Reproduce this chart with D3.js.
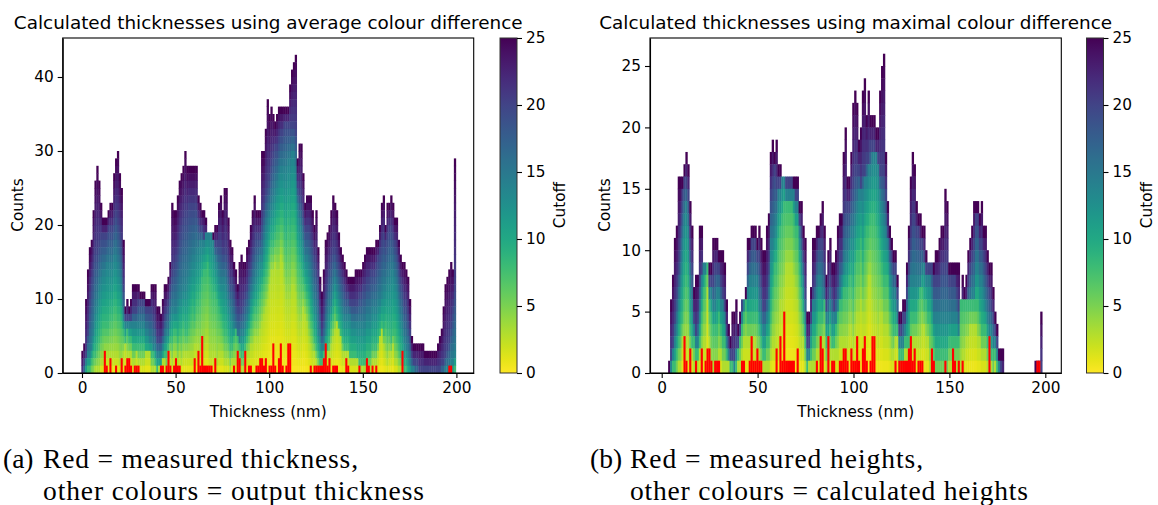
<!DOCTYPE html>
<html>
<head>
<meta charset="utf-8">
<script src="https://cdn.jsdelivr.net/npm/d3@7"></script>
<style>
body { margin: 0; background: #fff; }
svg { display: block; }
text { font-family: "DejaVu Sans", sans-serif; fill: #000; }
.caption { font-family: "Liberation Serif", serif; font-size: 27.5px; }
.axis text { font-size: 15.3px; }
.axis path, .axis line { stroke: #000; stroke-width: 1.1px; }
</style>
</head>
<body>
<script>
// count reached in each 1 nm bin, for a given cutoff. a = average difference
var a25 = [3,4,10,14,17,18,22,26,28,26, 23,21,21,21,22,23,23,27,29,30, 27,25,18,9,10,9,10,12,12,12,
  12,11,11,11,10,10,10,12,12,12, 9,9,8,10,12,12,13,15,23,22, 22,24,26,27,28,30,28,28,28,28,
  28,28,24,23,22,22,21,19,19,19, 19,20,20,23,24,22,25,25,21,18, 17,15,14,12,15,16,15,15,17,18,
  20,22,24,22,22,22,30,30,33,37, 35,36,35,34,35,36,36,36,36,36, 36,39,41,42,43,29,31,31,27,23,
  24,24,24,22,20,22,17,13,11,14, 18,19,20,22,24,23,22,19,17,16, 15,14,13,13,13,13,14,14,14,14,
  15,16,17,17,17,17,17,18,18,20, 23,24,20,23,23,24,23,21,21,18, 16,15,15,14,13,10,5,4,4,4,
  4,4,4,3,3,3,3,3,3,3, 4,5,6,9,12,13,14,15,14,29];
var a20 = [0,2,3,6,10,13,15,17,17,18, 19,19,19,19,20,20,20,21,22,21, 20,18,12,8,8,8,8,9,9,9,
  10,10,10,10,9,9,9,9,8,7, 5,5,5,6,8,9,10,12,14,15, 16,17,19,20,21,22,22,23,23,23,
  23,23,21,20,20,19,19,19,18,18, 18,18,18,18,18,17,17,17,15,13, 13,12,10,9,9,9,10,11,12,14,
  15,17,18,19,19,19,21,23,25,26, 27,29,30,31,31,32,33,33,34,34, 34,34,34,34,33,26,25,24,22,20,
  20,20,19,18,16,15,13,9,6,8, 11,13,15,16,17,17,16,15,14,13, 12,11,11,10,10,10,10,10,11,11,
  12,12,13,13,14,14,14,15,16,17, 18,19,18,19,20,20,19,18,17,15, 13,12,10,10,8,6,3,2,2,2,
  1,1,1,1,1,1,1,1,1,1, 1,1,2,2,3,4,5,7,9,12];
var a14 = [0,0,2,3,3,4,6,9,10,12, 13,14,14,15,15,15,15,16,16,15, 14,12,8,7,7,7,7,7,7,7,
  7,7,7,7,6,6,5,5,4,4, 3,3,3,4,5,6,6,8,9,9, 9,10,11,11,12,12,13,14,15,16,
  16,17,17,18,18,18,19,19,19,19, 18,16,15,14,13,13,13,12,10,9, 8,7,6,5,5,6,6,7,8,9,
  11,12,13,14,15,16,16,18,20,21, 22,23,24,25,26,27,28,28,28,28, 29,29,30,30,28,23,21,20,18,16,
  16,15,14,12,10,9,6,5,4,4, 6,8,9,10,12,13,12,11,10,9, 8,8,8,8,7,7,7,7,7,7,
  7,7,8,8,8,9,9,9,10,10, 11,12,12,13,13,14,14,13,12,10, 8,7,5,4,3,2,1,1,0,0,
  0,0,0,0,0,0,0,0,0,0, 0,0,0,0,1,1,1,2,2,3];
var a8 = [0,0,0,1,1,2,3,3,4,5, 6,7,7,7,7,8,8,9,9,8, 8,7,6,5,6,5,5,4,4,4,
  4,4,4,4,3,3,3,3,3,2, 1,1,1,2,3,3,4,5,5,6, 6,5,6,6,7,6,6,7,8,9,
  8,10,10,11,13,14,14,15,13,12, 11,11,10,9,8,7,6,6,5,4, 4,5,6,5,4,3,3,4,5,6,
  7,8,9,9,10,11,12,13,14,15, 17,18,18,19,20,20,21,21,19,18, 20,19,20,20,19,16,15,14,13,12,
  11,10,8,7,5,4,3,2,2,3, 4,4,5,7,8,9,8,7,6,5, 4,4,4,3,3,3,3,2,2,2,
  2,2,3,3,3,4,4,4,5,6, 7,6,7,6,6,5,6,6,5,4, 3,2,1,1,0,0,0,0,0,0,
  0,0,0,0,0,0,0,0,0,0, 0,0,0,0,0,0,0,0,0,1];
var a3 = [0,0,0,0,0,0,0,1,1,1, 2,2,3,3,3,3,3,3,3,3, 2,2,3,4,3,3,3,2,2,3,
  2,2,2,2,3,3,3,1,1,1, 0,1,1,2,2,1,2,3,2,3, 3,2,3,2,3,3,3,3,3,3,
  4,4,4,3,4,4,5,5,3,3, 3,3,2,3,3,3,2,2,2,1, 2,2,2,2,2,1,1,2,3,3,
  4,4,5,5,5,6,7,8,9,10, 12,14,14,15,14,14,16,15,12,10, 10,10,12,12,11,8,7,7,9,8,
  7,5,4,3,3,2,1,1,1,1, 2,3,3,4,5,6,7,6,5,3, 3,3,3,2,2,2,2,2,1,1,
  1,1,1,1,1,2,2,2,3,5, 6,4,3,2,3,3,4,2,2,1, 1,1,0,0,0,0,0,0,0,0,
  0,0,0,0,0,0,0,0,0,0, 0,0,0,0,0,0,0,0,0,0];
var redA = [[12,3],[13,1],[15,2],[18,1],[21,2],[23,1],[24,2],[25,2],[26,1],[28,1],[29,1],[30,1],
  [42,1],[43,1],[45,1],[46,3],[47,1],[49,1],[50,2],[51,1],[52,1],[60,2],[62,3],[63,1],[64,5],
  [65,1],[66,1],[67,1],[68,1],[69,1],[71,2],[81,1],[83,3],[84,2],[87,3],[89,1],[90,1],[93,1],[94,1],
  [95,2],[96,2],[97,1],[98,2],[100,1],[101,1],[102,4],[103,1],[105,2],[106,4],[107,1],[109,1],[110,4],[111,4],
  [122,1],[124,1],[125,1],[126,1],[127,1],[128,1],[129,2],[130,4],[131,1],[132,2],[134,1],[135,1],[136,1],
  [141,2],[142,1],[148,1],[152,2],[153,1],[155,1],[157,1],[171,3],[196,1],[197,1]];

// b = maximal difference
var b25 = [1,6,8,11,12,16,16,16,17,18, 17,14,12,7,8,8,12,12,9,9, 9,9,9,11,11,11,10,10,10,9,
  6,4,3,5,5,6,4,5,6,6, 7,11,11,12,12,12,11,12,11,10, 10,12,13,18,19,18,19,17,17,16,
  16,16,16,16,16,16,16,16,14,14, 12,11,5,5,7,11,11,12,12,13, 14,12,8,10,11,9,9,10,12,13,
  13,18,20,16,16,18,22,23,22,19, 20,23,24,21,23,21,21,21,20,20, 23,25,26,18,14,12,11,10,10,8,
  5,5,6,6,9,12,16,18,17,14, 13,13,12,12,10,9,9,9,9,10, 10,11,12,12,15,14,9,9,9,9,
  9,9,6,8,7,8,10,11,12,14, 14,14,13,14,12,12,10,9,9,7, 5,4,2,2,2,0,0,0,0,0,
  0,0,0,0,0,0,0,0,0,0, 0,1,1,1,5];
var b20 = [0,2,3,5,7,9,12,15,16,16, 15,11,9,5,4,5,8,9,9,9, 9,8,8,8,9,9,9,8,7,6,
  4,3,2,2,2,3,3,4,6,6, 6,9,10,11,11,11,10,10,8,6, 6,7,9,15,16,17,16,16,16,16,
  16,16,16,16,16,15,15,15,13,12, 10,7,3,3,5,7,8,10,11,11, 11,9,6,7,8,7,6,7,8,10,
  10,13,14,14,14,15,16,17,17,17, 16,17,17,18,18,19,19,19,18,18, 17,17,17,15,12,11,10,9,9,7,
  4,4,5,5,7,9,11,13,13,12, 12,11,11,10,9,9,9,9,8,8, 8,8,9,9,9,9,8,8,8,8,
  7,6,4,5,6,6,8,9,10,11, 13,13,11,11,10,9,8,7,6,5, 4,3,1,1,0,0,0,0,0,0,
  0,0,0,0,0,0,0,0,0,0, 0,0,0,0,1];
var b14 = [0,1,2,3,4,6,8,11,13,14, 12,8,6,4,3,3,5,8,9,9, 8,7,7,6,6,7,7,6,6,5,
  3,2,1,1,1,2,2,3,5,6, 6,7,8,8,8,8,8,6,5,4, 4,5,6,11,11,12,13,15,15,16,
  16,15,15,15,15,15,14,14,12,10, 8,5,2,2,4,6,6,7,8,8, 7,6,5,5,6,5,5,5,6,7,
  8,9,10,10,11,12,12,13,14,15, 15,15,16,16,17,17,18,18,18,17, 15,14,13,12,11,9,8,7,7,5,
  3,3,3,4,5,7,8,8,8,8, 8,8,9,9,8,8,8,7,5,5, 5,5,5,5,5,5,5,5,5,5,
  5,4,6,6,6,6,6,6,7,7, 9,9,8,8,7,6,5,4,4,3, 3,2,1,0,0,0,0,0,0,0,
  0,0,0,0,0,0,0,0,0,0, 0,0,0,0,0];
var b8 = [0,0,1,1,2,3,4,5,7,8, 7,4,3,3,2,2,3,5,7,8, 9,6,5,4,4,4,5,4,3,3,
  2,1,1,1,0,1,2,3,4,5, 6,5,5,5,5,5,5,4,3,2, 2,3,3,5,7,9,9,11,12,13,
  14,14,14,14,14,13,12,12,9,7, 5,3,1,1,2,3,3,4,5,5, 5,6,3,3,4,3,3,4,5,6,
  6,7,7,7,8,8,7,9,10,10, 11,9,11,12,12,13,13,13,12,11, 10,9,8,8,8,6,5,4,4,4,
  2,2,2,3,3,3,5,5,5,5, 6,7,7,6,6,5,5,4,3,2, 2,2,2,2,2,2,3,3,3,3,
  3,3,6,6,6,6,6,6,6,6, 6,6,5,4,4,4,3,3,2,2, 2,1,0,0,0,0,0,0,0,0,
  0,0,0,0,0,0,0,0,0,0, 0,0,0,0,0];
var b3 = [0,0,0,0,0,1,1,3,3,3, 3,2,2,1,1,1,2,2,3,3, 7,3,1,1,1,1,2,2,1,1,
  1,1,0,0,0,0,1,1,2,3, 3,3,3,3,3,3,2,2,1,1, 1,1,1,2,3,3,4,4,6,6,
  7,9,9,9,9,8,7,6,4,3, 3,1,0,1,1,1,1,2,2,2, 3,3,1,1,2,2,2,2,2,3,
  3,3,3,3,4,4,3,4,5,5, 6,5,5,6,8,8,6,5,5,4, 5,5,4,4,4,3,2,2,3,3,
  1,1,1,2,2,2,2,3,3,3, 3,3,4,4,3,3,1,1,0,0, 0,0,0,0,0,0,1,1,1,1,
  1,1,1,2,2,3,3,4,4,4, 4,3,3,2,2,2,1,1,1,0, 1,0,0,0,0,0,0,0,0,0,
  0,0,0,0,0,0,0,0,0,0, 0,0,0,0,0];
var redB = [[8,3],[9,1],[11,2],[14,1],[17,2],[19,1],[20,2],[21,2],[22,1],[24,1],[25,1],[26,1],
  [38,1],[39,1],[42,1],[43,3],[44,1],[45,1],[46,2],[47,1],[48,1],[56,2],[58,3],[59,1],[60,5],
  [61,1],[62,1],[63,1],[64,1],[65,1],[67,2],[77,1],[79,3],[80,2],[83,3],[85,1],[86,1],[89,1],[90,1],
  [91,2],[92,2],[93,1],[95,2],[96,1],[97,1],[98,3],[99,1],[101,2],[102,3],[103,1],[105,1],[106,3],[107,3],
  [118,1],[120,1],[121,1],[122,1],[123,1],[124,1],[125,2],[126,3],[127,1],[128,2],[130,1],[131,1],[132,1],
  [137,2],[138,1],[144,1],[148,2],[149,1],[151,1],[153,1],[167,3],[192,1],[193,1]];

var cutoffs = [3, 8, 14, 20, 25];
var xTicks = [0, 50, 100, 150, 200];
var cutoffTicks = [0, 5, 10, 15, 20, 25];

var width = 1158, height = 505;
var svg = d3.select("body").append("svg")
    .attr("width", width)
    .attr("height", height);

var colour = function(c){ return d3.interpolateViridis(1 - c / 25); };

var defs = svg.append("defs");
var grad = defs.append("linearGradient").attr("id", "cbar")
    .attr("x1", 0).attr("y1", 1).attr("x2", 0).attr("y2", 0);
d3.range(0, 26).forEach(function(c){
  grad.append("stop").attr("offset", c / 25).attr("stop-color", colour(c));
});

// cutoff colour for one count cell of a bin, between the levels
function cellCutoff(levels, count){
  var prevH = 0, prevC = 0;
  for(var i = 0; i < levels.length; i++){
    var h = levels[i];
    if(h >= count){
      return prevC + (cutoffs[i] - prevC) * (count - prevH) / (h - prevH);
    }
    if(h > prevH){ prevH = h; }
    prevC = cutoffs[i];
  }
  return 25;
}

function panel(o){
  var x = d3.scaleLinear().domain(o.xDomain).range([o.left, o.right]);
  var y = d3.scaleLinear().domain([0, o.yMax]).range([373, 38]);
  var g = svg.append("g");

  var top = o.series[o.series.length - 1];
  top.forEach(function(t, i){
    var levels = o.series.map(function(s){ return Math.min(s[i] || 0, t); });
    var x0 = x(o.start + i), w = x(o.start + i + 1) - x0;
    // top cell first, so each lower cell covers the seam
    d3.range(t, 0, -1).forEach(function(k){
      g.append("rect")
        .attr("x", x0)
        .attr("y", y(k))
        .attr("width", w + 0.4)
        .attr("height", y(k - 1) - y(k) + 0.4)
        .attr("fill", colour(cellCutoff(levels, k)));
    });
  });

  g.selectAll("rect.red")
    .data(o.red).enter()
    .append("rect")
    .attr("class", "red")
    .attr("x", function(d){ return x(o.start + d[0]); })
    .attr("y", function(d){ return y(d[1]); })
    .attr("width", x(1) - x(0) + 0.2)
    .attr("height", function(d){ return y(0) - y(d[1]); })
    .attr("fill", "#ff0000");

  // axes
  g.append("g").attr("class", "axis")
    .attr("transform", "translate(0,373)")
    .call(d3.axisBottom(x).tickValues(xTicks).tickSize(5).tickPadding(4).tickSizeOuter(0));
  g.append("g").attr("class", "axis")
    .attr("transform", "translate(" + o.left + ",0)")
    .call(d3.axisLeft(y).tickValues(o.yTicks).tickSize(5).tickPadding(4).tickSizeOuter(0));
  g.append("rect")
    .attr("x", o.left).attr("y", 38)
    .attr("width", o.right - o.left).attr("height", 335)
    .attr("fill", "none").attr("stroke", "#000").attr("stroke-width", 1.1);

  g.append("text").attr("x", (o.left + o.right) / 2).attr("y", 29)
    .attr("text-anchor", "middle").style("font-size", "18.4px").text(o.title);
  g.append("text").attr("x", (o.left + o.right) / 2).attr("y", 416.5)
    .attr("text-anchor", "middle").style("font-size", "15.3px").text("Thickness (nm)");
  g.append("text")
    .attr("transform", "translate(" + (o.left - 40) + ",205) rotate(-90)")
    .attr("text-anchor", "middle").style("font-size", "15.3px").text("Counts");

  // colourbar
  var cy = d3.scaleLinear().domain([0, 25]).range([373, 38]);
  g.append("rect")
    .attr("x", o.barX).attr("y", 38)
    .attr("width", 17).attr("height", 335)
    .attr("fill", "url(#cbar)").attr("stroke", "#333").attr("stroke-width", 1);
  g.append("g").attr("class", "axis")
    .attr("transform", "translate(" + (o.barX + 17) + ",0)")
    .call(d3.axisRight(cy).tickValues(cutoffTicks).tickSize(5).tickPadding(4).tickSizeOuter(0))
    .select(".domain").remove();
  g.append("text")
    .attr("transform", "translate(" + (o.barX + 65) + ",205) rotate(-90)")
    .attr("text-anchor", "middle").style("font-size", "15.3px").text("Cutoff");

  // latex-style subcaption under the panel
  g.append("text").attr("class", "caption").attr("x", o.capX).attr("y", 468).text(o.capTag);
  g.append("text").attr("class", "caption").attr("x", o.capX + 40).attr("y", 468)
    .attr("textLength", o.capLen1).attr("lengthAdjust", "spacing").text(o.cap1);
  g.append("text").attr("class", "caption").attr("x", o.capX + 40).attr("y", 500)
    .attr("textLength", o.capLen2).attr("lengthAdjust", "spacing").text(o.cap2);
}

panel({
  left: 62.7, right: 473.7,
  xDomain: [-10.31, 209.24],
  start: -0.35,
  yMax: 45.27,
  yTicks: [0, 10, 20, 30, 40],
  series: [a3, a8, a14, a20, a25],
  red: redA,
  title: "Calculated thicknesses using average colour difference",
  barX: 500,
  capX: 3, capTag: "(a)",
  cap1: "Red = measured thickness,", capLen1: 315,
  cap2: "other colours = output thickness", capLen2: 381
});

panel({
  left: 650, right: 1061.3,
  xDomain: [-6.1, 208.34],
  start: 3.35,
  yMax: 27.28,
  yTicks: [0, 5, 10, 15, 20, 25],
  series: [b3, b8, b14, b20, b25],
  red: redB,
  title: "Calculated thicknesses using maximal colour difference",
  barX: 1086.5,
  capX: 590, capTag: "(b)",
  cap1: "Red = measured heights,", capLen1: 293,
  cap2: "other colours = calculated heights", capLen2: 398
});
</script>
</body>
</html>
